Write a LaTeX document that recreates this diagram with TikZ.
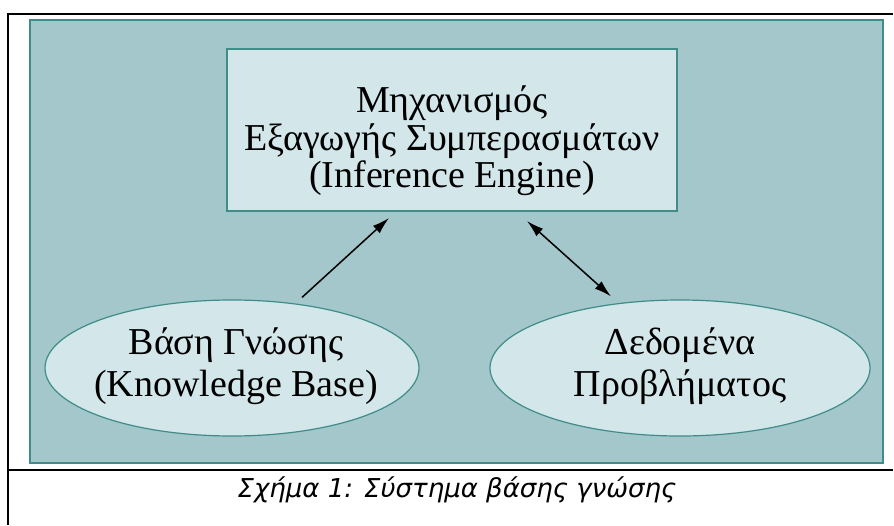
\documentclass[tikz,border=0pt]{standalone}
\usepackage{fontspec}
\setmainfont{Liberation Serif}
\newfontfamily\capfont{DejaVu Sans}
\usetikzlibrary{shapes.geometric,arrows.meta,calc}
\definecolor{tealbg}{HTML}{A3C7CA}
\definecolor{tealln}{HTML}{3F8C89}
\definecolor{lightfill}{HTML}{D3E6E9}
\tikzset{
  framebox/.style={draw=tealln,line width=2pt,fill=lightfill,inner sep=0pt},
  ellbox/.style={ellipse,draw=tealln,line width=1.2pt,fill=lightfill,inner sep=0pt,minimum width=374pt,minimum height=136pt},
  txt/.style={align=center,inner sep=0pt,font=\fontsize{38}{37.5}\selectfont},
  etxt/.style={align=center,inner sep=0pt,font=\fontsize{38}{42}\selectfont},
  arr/.style={line width=1.5pt,-{Latex[length=17pt,width=10pt]}},
  darr/.style={line width=1.5pt,{Latex[length=17pt,width=10pt]}-{Latex[length=17pt,width=10pt]}},
  rule/.style={line width=1.5pt,black}
}
\begin{document}
\begin{tikzpicture}[x=1pt,y=-1pt]
\useasboundingbox (0,0) rectangle (894,525);
\fill[white] (0,0) rectangle (894,525);
\draw[rule] (8,525) -- (8,14) -- (893,14);
\draw[rule] (8,470) -- (893,470);
\draw[draw=tealln,line width=2pt,fill=tealbg] (30,20) rectangle (883,463);
\node[framebox,minimum width=450pt,minimum height=162pt] (ie) at (452,130) {};
\node[txt] (ietext) at (452,141) {Μηχανισμός\\Εξαγωγής Συμπερασμάτων\\(Inference Engine)};
\node[ellbox] (kb) at (232,368) {};
\node[etxt] (kbtext) at (236,366) {Βάση Γνώσης\\(Knowledge Base)};
\node[ellbox,minimum width=380pt] (db) at (680,368) {};
\node[etxt] (dbtext) at (680,366) {Δεδομένα\\Προβλήματος};
\draw[arr] ($(kb.north)+(70,-2)$) -- ($(ie.south)+(-63,6)$);
\draw[darr] ($(ie.south)+(75,9)$) -- ($(db.north)+(-69,-3)$);
\node[font=\capfont\itshape\fontsize{26}{30}\selectfont,inner sep=0pt,anchor=base] (cap) at (457,497) {Σχήμα 1: Σύστημα βάσης γνώσης};
\end{tikzpicture}
\end{document}
